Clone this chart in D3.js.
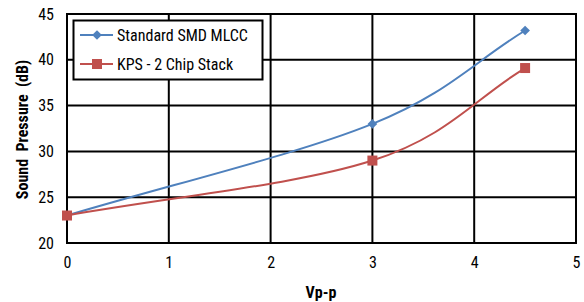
<!DOCTYPE html>
<html><head><meta charset="utf-8">
<script src="https://cdn.jsdelivr.net/npm/d3@7"></script>
<style>
body{margin:0;background:#fff;}
text{font-family:"Liberation Sans Narrow","Roboto Condensed","DejaVu Sans Condensed",sans-serif;}
</style></head>
<body><svg id="c" width="584" height="302"></svg>
<script>
const xValues = [0, 3, 4.5];
const standardMLCC = [23, 33, 43.2];
const kpsStack = [23, 29, 39.1];
const seriesNames = ["Standard SMD MLCC", "KPS - 2 Chip Stack"];
const xTicks = [0, 1, 2, 3, 4, 5];
const yTicks = [20, 25, 30, 35, 40, 45];
const colors = ["#4F81BD", "#C0504D"];

const svg = d3.select("#c");
const L = 67, R = 576, T = 14, B = 243;
const x = d3.scaleLinear().domain([0, 5]).range([L, R]);
const y = d3.scaleLinear().domain([20, 45]).range([B, T]);
const FF = "'Liberation Sans Narrow','Roboto Condensed',sans-serif";

// grid
svg.append("g").selectAll("line").data(yTicks).join("line")
  .attr("x1", L - 1).attr("x2", R + 1).attr("y1", d => y(d)).attr("y2", d => y(d))
  .attr("stroke", "#000").attr("stroke-width", 2);
svg.append("g").selectAll("line").data(xTicks).join("line")
  .attr("y1", T).attr("y2", B).attr("x1", d => x(d)).attr("x2", d => x(d))
  .attr("stroke", "#000").attr("stroke-width", 2);

// axes labels
const yAxis = d3.axisLeft(y).tickValues(yTicks).tickSize(0).tickPadding(13).tickFormat(d3.format("d"));
const gy = svg.append("g").attr("transform", `translate(${L},0)`).call(yAxis);
gy.select(".domain").remove();
gy.selectAll("text").attr("font-size", 16).attr("fill", "#000").style("font-family", FF);
const xAxis = d3.axisBottom(x).tickValues(xTicks).tickSize(0).tickPadding(14).tickFormat(d3.format("d"));
const gx = svg.append("g").attr("transform", `translate(0,${B})`).call(xAxis);
gx.select(".domain").remove();
gx.selectAll("text").attr("font-size", 16).attr("fill", "#000").style("font-family", FF);

svg.append("text").attr("x", 321).attr("y", 298).attr("text-anchor", "middle")
  .attr("font-size", 16).attr("font-weight", "bold").text("Vp-p");
svg.append("text").attr("transform", `translate(28,${(T+B)/2 + 1}) rotate(-90)`)
  .attr("text-anchor", "middle").attr("font-size", 16).attr("font-weight", "bold")
  .attr("xml:space", "preserve").style("white-space", "pre")
  .text("Sound  Pressure  (dB)");

// Excel-like smoothed line: cubic Bezier with 1/6 tangents, reflected end neighbours
function smoothPath(pts) {
  const p = pts.map(d => [x(d[0]), y(d[1])]);
  const path = d3.path();
  path.moveTo(p[0][0], p[0][1]);
  for (let i = 0; i < p.length - 1; i++) {
    const a = p[i], b = p[i + 1];
    const prev = i > 0 ? p[i - 1] : [2 * a[0] - b[0], 2 * a[1] - b[1]];
    const next = i + 2 < p.length ? p[i + 2] : [2 * b[0] - a[0], 2 * b[1] - a[1]];
    path.bezierCurveTo(a[0] + (b[0] - prev[0]) / 6, a[1] + (b[1] - prev[1]) / 6,
                       b[0] - (next[0] - a[0]) / 6, b[1] - (next[1] - a[1]) / 6,
                       b[0], b[1]);
  }
  return path.toString();
}
const data = [standardMLCC, kpsStack].map(s => s.map((v, i) => [xValues[i], v]));
data.forEach((pts, i) => {
  svg.append("path").attr("d", smoothPath(pts)).attr("fill", "none")
    .attr("stroke", colors[i]).attr("stroke-width", 2);
});
const diamond = d3.symbol().type(d3.symbolDiamond2).size(60);
svg.append("g").selectAll("path").data(data[0]).join("path")
  .attr("d", diamond).attr("transform", d => `translate(${x(d[0])},${y(d[1])})`)
  .attr("fill", colors[0]);
svg.append("g").selectAll("rect").data(data[1]).join("rect")
  .attr("x", d => x(d[0]) - 5).attr("y", d => y(d[1]) - 5).attr("width", 10).attr("height", 10)
  .attr("fill", colors[1]);

// legend
const lg = svg.append("g");
lg.append("rect").attr("x", 73.5).attr("y", 20.5).attr("width", 189).attr("height", 59)
  .attr("fill", "#fff").attr("stroke", "#000").attr("stroke-width", 2);
seriesNames.forEach((n, i) => {
  const yy = 35 + i * 29;
  lg.append("line").attr("x1", 80).attr("x2", 113).attr("y1", yy).attr("y2", yy)
    .attr("stroke", colors[i]).attr("stroke-width", 2);
  if (i === 0) lg.append("path").attr("d", diamond).attr("transform", `translate(97,${yy})`).attr("fill", colors[0]);
  else lg.append("rect").attr("x", 92).attr("y", yy - 5).attr("width", 10).attr("height", 10).attr("fill", colors[1]);
  lg.append("text").attr("x", 117).attr("y", yy + 6).attr("font-size", 16).text(n);
});
</script></body></html>
